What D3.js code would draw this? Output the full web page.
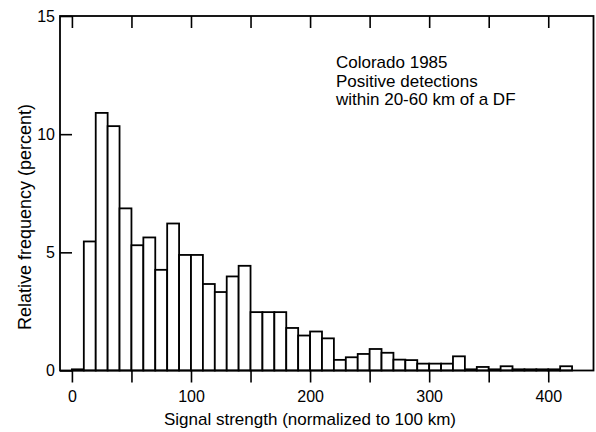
<!DOCTYPE html>
<html>
<head>
<meta charset="utf-8">
<script src="https://cdn.jsdelivr.net/npm/d3@7/dist/d3.min.js"></script>
<style>
  html, body { margin: 0; padding: 0; background: #fff; }
  svg { display: block; }
  text { font-family: "Liberation Sans", Arial, Helvetica, sans-serif; fill: #000; }
</style>
</head>
<body>
<svg id="chart" width="596" height="432"></svg>
<script>
// Histogram bins (start of each 10-unit bin) and relative frequency (percent)
const binStarts = [0, 10, 20, 30, 40, 50, 60, 70, 80, 90,
                   100, 110, 120, 130, 140, 150, 160, 170, 180, 190,
                   200, 210, 220, 230, 240, 250, 260, 270, 280, 290,
                   300, 310, 320, 330, 340, 350, 360, 370, 380, 390,
                   400, 410];
const freq = [0.05, 5.46, 10.9, 10.34, 6.86, 5.30, 5.63, 4.26, 6.22, 4.89,
              4.89, 3.66, 3.32, 3.98, 4.43, 2.47, 2.47, 2.47, 1.80, 1.48,
              1.65, 1.36, 0.45, 0.56, 0.70, 0.91, 0.75, 0.46, 0.44, 0.29,
              0.29, 0.29, 0.60, 0.05, 0.15, 0.05, 0.18, 0.05, 0.05, 0.05,
              0.05, 0.18];
const binWidth = 10;
const xTicks = [0, 50, 100, 150, 200, 250, 300, 350, 400];
const xTickLabels = ["0", "", "100", "", "200", "", "300", "", "400"];
const yTicks = [0, 5, 10, 15];
const yTickLabels = ["0", "5", "10", "15"];
const xTitle = "Signal strength (normalized to 100 km)";
const yTitle = "Relative frequency (percent)";
const noteLines = ["Colorado 1985", "Positive detections", "within 20-60 km of a DF"];

(function () {
const svg = d3.select("#chart");
const pL = 60, pR = 593.5, pT = 16, pB = 370.5;

const x = d3.scaleLinear().domain([-10, 438]).range([pL, pR]);
const y = d3.scaleLinear().domain([0, 15]).range([pB, pT]);

// Bars
svg.append("g")
  .selectAll("rect")
  .data(binStarts.map((b, i) => ({ b, v: freq[i] })))
  .join("rect")
  .attr("x", d => x(d.b))
  .attr("y", d => y(d.v))
  .attr("width", d => x(d.b + binWidth) - x(d.b))
  .attr("height", d => y(0) - y(d.v))
  .attr("fill", "#fff")
  .attr("stroke", "#000")
  .attr("stroke-width", 1.8);

// Axes
const fontSize = "16px";
const bx = svg.append("g")
  .attr("transform", `translate(0,${pB})`)
  .call(d3.axisBottom(x).tickValues(xTicks)
    .tickFormat((d, i) => xTickLabels[i]).tickSize(12).tickPadding(8));
const tx = svg.append("g")
  .attr("transform", `translate(0,${pT})`)
  .call(d3.axisTop(x).tickValues(xTicks).tickFormat("").tickSize(-12));
const ly = svg.append("g")
  .attr("transform", `translate(${pL},0)`)
  .call(d3.axisLeft(y).tickValues(yTicks)
    .tickFormat((d, i) => yTickLabels[i]).tickSize(-12).tickPadding(5));

[bx, tx, ly].forEach(g => {
  g.select(".domain").remove();
  g.selectAll(".tick line").attr("stroke", "#000").attr("stroke-width", 1.6);
  g.selectAll(".tick text").style("font-size", fontSize)
    .style("font-family", '"Liberation Sans", Arial, Helvetica, sans-serif')
    .attr("fill", "#000");
});

// Frame
svg.append("rect")
  .attr("x", pL).attr("y", pT)
  .attr("width", pR - pL).attr("height", pB - pT)
  .attr("fill", "none").attr("stroke", "#000").attr("stroke-width", 1.8);

// Axis titles
svg.append("text")
  .attr("x", 310).attr("y", 425)
  .attr("text-anchor", "middle")
  .style("font-size", "17px")
  .text(xTitle);

svg.append("text")
  .attr("transform", "translate(31,217) rotate(-90)")
  .attr("text-anchor", "middle")
  .style("font-size", "18px")
  .text(yTitle);

// Annotation
const note = svg.append("text")
  .attr("x", 336).attr("y", 68)
  .style("font-size", "17px");
noteLines.forEach((t, i) => {
  note.append("tspan").attr("x", 336).attr("y", 68 + i * 18.5).text(t);
});
})();
</script>
</body>
</html>
